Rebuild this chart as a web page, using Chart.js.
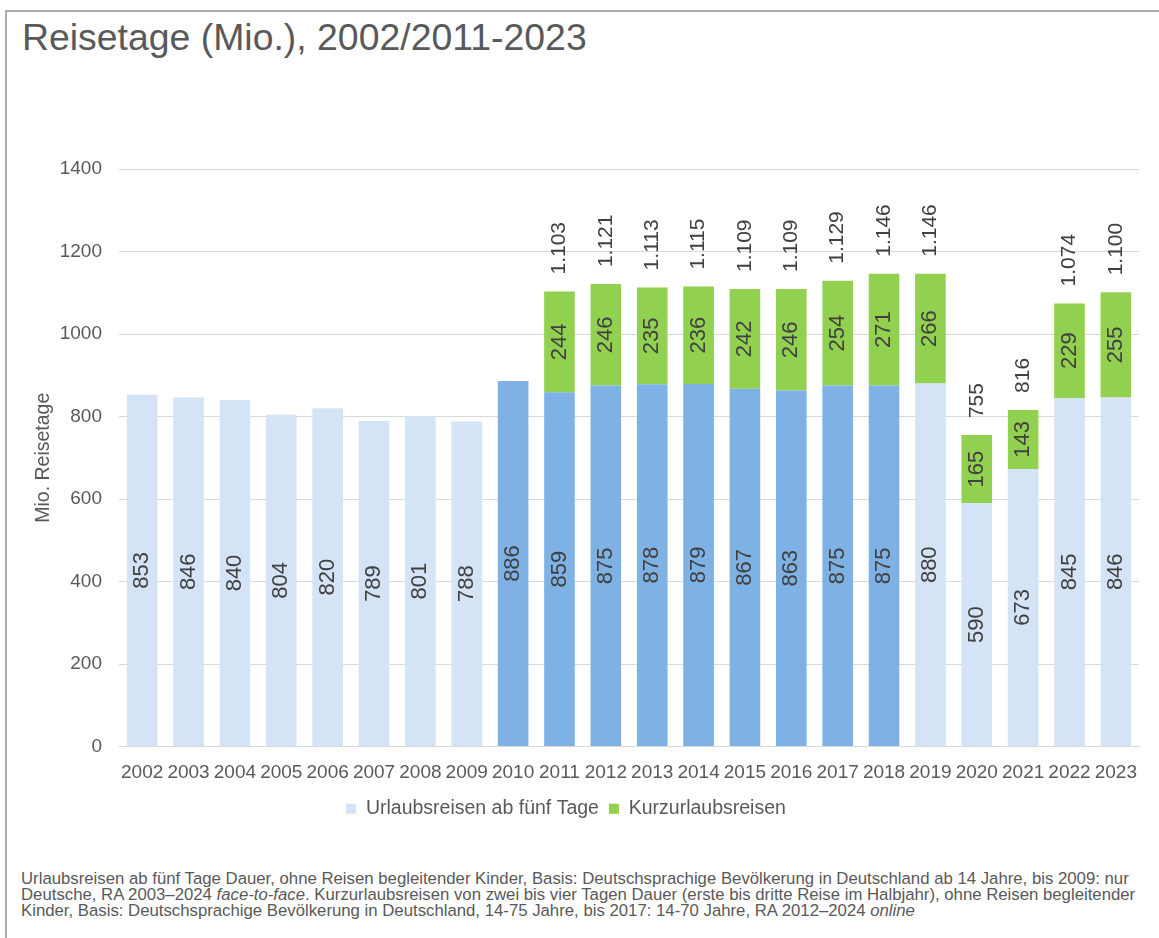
<!DOCTYPE html>
<html>
<head>
<meta charset="utf-8">
<script src="https://cdn.jsdelivr.net/npm/chart.js@4.4.1/dist/chart.umd.min.js"></script>
<style>
  html, body { margin: 0; padding: 0; background: #fff; overflow: hidden; }
  body { width: 1159px; height: 938px; position: relative; font-family: "Liberation Sans", Arial, sans-serif; }
  #frame { position: absolute; left: 5px; top: 10px; width: 1200px; height: 1000px;
           border-left: 2px solid #ababab; border-top: 2px solid #ababab; }
  #title { position: absolute; left: 22px; top: 19px; font-size: 37.4px; line-height: 37px; color: #595959; white-space: nowrap; }
  #wrap { position: absolute; left: -20px; top: 100px; width: 1172px; height: 740px; }
  #note { position: absolute; left: 21px; top: 871px; font-size: 16.75px; line-height: 16px; color: #595959; white-space: nowrap; }
</style>
</head>
<body>
<div id="frame"></div>
<div id="title">Reisetage (Mio.), 2002/2011-2023</div>
<div id="wrap"><canvas id="reiseChart"></canvas></div>
<div id="note">
  Urlaubsreisen ab fünf Tage Dauer, ohne Reisen begleitender Kinder, Basis: Deutschsprachige Bevölkerung in Deutschland ab 14 Jahre, bis 2009: nur<br>
  Deutsche, RA 2003–2024 <i>face-to-face</i>. Kurzurlaubsreisen von zwei bis vier Tagen Dauer (erste bis dritte Reise im Halbjahr), ohne Reisen begleitender<br>
  Kinder, Basis: Deutschsprachige Bevölkerung in Deutschland, 14-75 Jahre, bis 2017: 14-70 Jahre, RA 2012–2024 <i>online</i>
</div>
<script>
const years = ["2002", "2003", "2004", "2005", "2006", "2007", "2008", "2009", "2010", "2011", "2012",
  "2013", "2014", "2015", "2016", "2017", "2018", "2019", "2020", "2021", "2022", "2023"];
const urlaub = [853, 846, 840, 804, 820, 789, 801, 788, 886, 859, 875, 878, 879, 867, 863, 875, 875, 880, 590, 673, 845, 846];
const kurz = [null, null, null, null, null, null, null, null, null, 244, 246, 235, 236, 242, 246, 254, 271, 266, 165, 143, 229, 255];
const totals = [null, null, null, null, null, null, null, null, null, 1103, 1121, 1113, 1115, 1109, 1109, 1129, 1146, 1146, 755, 816, 1074, 1100];
const yTicks = [0, 200, 400, 600, 800, 1000, 1200, 1400];

const lightBlue = "#d4e4f6";
const midBlue = "#7eb1e4";
const green = "#92d050";
// 2010-2018 in the darker blue
const urlaubColors = years.map((y) => (y >= "2010" && y <= "2018" ? midBlue : lightBlue));

function fmt(n) {
  if (n >= 1000) return Math.floor(n / 1000) + "." + String(n % 1000).padStart(3, "0");
  return String(n);
}

function drawRotated(ctx, text, x, y, align) {
  ctx.save();
  ctx.translate(x, y);
  ctx.rotate(-Math.PI / 2);
  ctx.textAlign = align;
  ctx.textBaseline = "middle";
  ctx.fillText(text, 0, 0);
  ctx.restore();
}

const barLabels = {
  id: "barLabels",
  afterDatasetsDraw(chart) {
    const ctx = chart.ctx;
    ctx.save();
    ctx.fillStyle = "#404040";
    ctx.font = '22px "Liberation Sans", Arial, sans-serif';
    chart.getDatasetMeta(0).data.forEach((el, i) => {
      drawRotated(ctx, fmt(urlaub[i]), el.x, (el.y + el.base) / 2, "center");
    });
    chart.getDatasetMeta(1).data.forEach((el, i) => {
      if (kurz[i] == null) return;
      drawRotated(ctx, fmt(kurz[i]), el.x, (el.y + el.base) / 2, "center");
    });
    // totals above the stacks
    ctx.font = '21px "Liberation Sans", Arial, sans-serif';
    chart.getDatasetMeta(1).data.forEach((el, i) => {
      if (totals[i] == null) return;
      drawRotated(ctx, fmt(totals[i]), el.x, el.y - 17, "left");
    });
    ctx.restore();
  },
};

new Chart(document.getElementById("reiseChart"), {
  type: "bar",
  data: {
    labels: years,
    datasets: [
      {
        label: "Urlaubsreisen ab fünf Tage",
        data: urlaub,
        backgroundColor: urlaubColors,
        categoryPercentage: 1,
        barPercentage: 0.66,
      },
      {
        label: "Kurzurlaubsreisen",
        data: kurz,
        backgroundColor: green,
        categoryPercentage: 1,
        barPercentage: 0.66,
      },
    ],
  },
  options: {
    responsive: true,
    maintainAspectRatio: false,
    animation: false,
    layout: { padding: { top: 69, bottom: 11.5, left: 0, right: 0 } },
    plugins: {
      tooltip: { enabled: false },
      legend: {
        position: "bottom",
        labels: {
          boxWidth: 10,
          boxHeight: 10,
          padding: 10,
          color: "#595959",
          font: { family: '"Liberation Sans", Arial, sans-serif', size: 19.5 },
          generateLabels: (chart) =>
            Chart.defaults.plugins.legend.labels.generateLabels(chart).map((l) => ({
              ...l,
              fillStyle: l.datasetIndex === 0 ? lightBlue : green,
              strokeStyle: l.datasetIndex === 0 ? lightBlue : green,
              lineWidth: 0,
            })),
        },
      },
    },
    scales: {
      x: {
        stacked: true,
        grid: { display: false, drawTicks: false },
        border: { display: true, color: "#d9d9d9", width: 1 },
        ticks: {
          autoSkip: false,
          maxRotation: 0,
          padding: 15,
          color: "#595959",
          font: { family: '"Liberation Sans", Arial, sans-serif', size: 19 },
        },
        afterFit: (s) => { s.height = 42.5; },
      },
      y: {
        stacked: true,
        min: 0,
        max: 1400,
        afterBuildTicks: (s) => { s.ticks = yTicks.map((v) => ({ value: v })); },
        grid: { color: "#d9d9d9", drawTicks: false },
        border: { display: false },
        ticks: {
          padding: 17,
          color: "#595959",
          font: { family: '"Liberation Sans", Arial, sans-serif', size: 19 },
          callback: (v) => String(v),
        },
        title: {
          display: true,
          text: "Mio. Reisetage",
          color: "#595959",
          padding: { top: 52, bottom: 0 },
          font: { family: '"Liberation Sans", Arial, sans-serif', size: 19.5 },
        },
        afterFit: (s) => { s.width = 139; },
      },
    },
  },
  plugins: [barLabels],
});
</script>
</body>
</html>
